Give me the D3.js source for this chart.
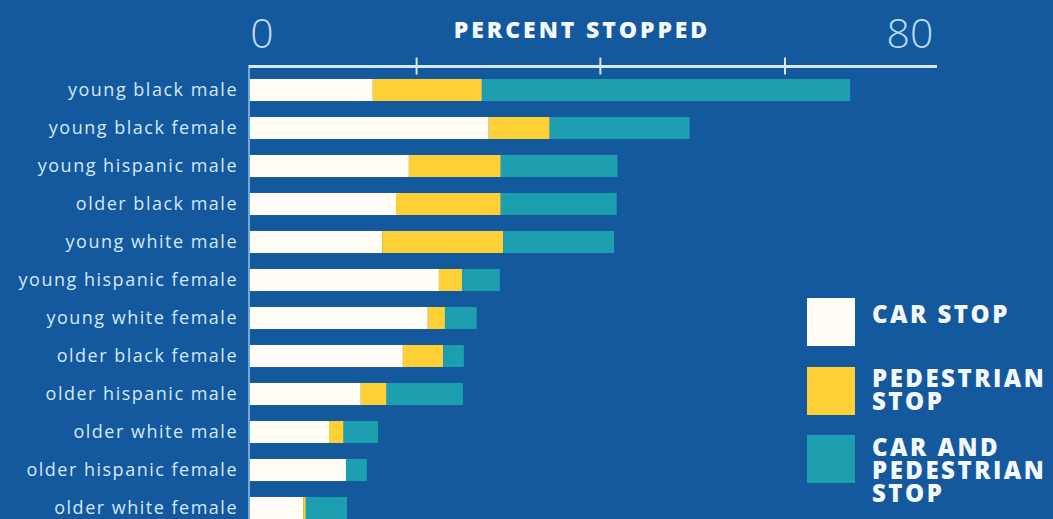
<!DOCTYPE html>
<html>
<head>
<meta charset="utf-8">
<script src="https://cdn.jsdelivr.net/npm/d3@7"></script>
<style>
  html, body { margin: 0; padding: 0; background: #14589e; }
  svg { display: block; }
</style>
</head>
<body>
<svg id="chart" width="1053" height="519"></svg>
<script>
// Groups, top to bottom
const categories = [
  "young black male",
  "young black female",
  "young hispanic male",
  "older black male",
  "young white male",
  "young hispanic female",
  "young white female",
  "older black female",
  "older hispanic male",
  "older white male",
  "older hispanic female",
  "older white female"
];

// Percent stopped, by type of stop
const carStop        = [14.3, 27.8, 18.5, 17.0, 15.4, 22.0, 20.7, 17.8, 12.9, 9.2, 11.2, 6.2];
const pedestrianStop = [12.7,  7.1, 10.7, 12.2, 14.1,  2.7,  2.0,  4.7,  3.0, 1.7,  0.0, 0.3];
const carAndPedStop  = [42.9, 16.3, 13.6, 13.5, 12.9,  4.4,  3.7,  2.4,  8.9, 4.0,  2.4, 4.8];

const seriesNames = ["CAR STOP", "PEDESTRIAN STOP", "CAR AND PEDESTRIAN STOP"];
const legendLines = [["CAR STOP"], ["PEDESTRIAN", "STOP"], ["CAR AND", "PEDESTRIAN", "STOP"]];
const axisDomain = [0, 80];
const axisEndLabels = ["0", "80"];
const axisTicks = [19.4, 40.8, 62.3];

const colors = ["#fffdf6", "#fdd035", "#1e9fb0"];
const bg = "#14589e";
const pale = "#d3e9fb";

const svg = d3.select("#chart");
svg.append("rect").attr("width", 1053).attr("height", 519).attr("fill", bg);

const x = d3.scaleLinear().domain(axisDomain).range([250, 937]);
const y = d3.scaleBand().domain(categories).range([71, 527]).paddingInner(0.42).paddingOuter(0.21);

// stack the three kinds of stop
const rows = categories.map((c, i) => ({
  cat: c,
  [seriesNames[0]]: carStop[i],
  [seriesNames[1]]: pedestrianStop[i],
  [seriesNames[2]]: carAndPedStop[i]
}));
const stacked = d3.stack().keys(seriesNames)(rows);

// left rule running down beside the bars
svg.append("line")
  .attr("x1", x(0) - 1).attr("x2", x(0) - 1)
  .attr("y1", 65).attr("y2", 519)
  .attr("stroke", "#6fa8dc").attr("stroke-width", 2);

// bars
svg.append("g").selectAll("g")
  .data(stacked)
  .join("g")
  .attr("fill", (d, i) => colors[i])
  .selectAll("rect")
  .data(d => d)
  .join("rect")
  .attr("x", d => x(d[0]))
  .attr("y", d => y(d.data.cat))
  .attr("width", d => Math.max(0, x(d[1]) - x(d[0])))
  .attr("height", y.bandwidth());

// top axis line with tick marks
const axisY = 66.5;
svg.append("line")
  .attr("x1", x(0) - 1).attr("x2", x(axisDomain[1]))
  .attr("y1", axisY).attr("y2", axisY)
  .attr("stroke", pale).attr("stroke-width", 3);

svg.append("g").selectAll("line")
  .data(axisTicks)
  .join("line")
  .attr("x1", d => x(d)).attr("x2", d => x(d))
  .attr("y1", axisY - 9).attr("y2", axisY + 8)
  .attr("stroke", pale).attr("stroke-width", 2);

// end labels of the axis
svg.append("text")
  .attr("x", x(0) + 12).attr("y", 48)
  .attr("text-anchor", "middle")
  .attr("font-family", "Open Sans, Lato, sans-serif")
  .attr("font-weight", 300)
  .attr("font-size", 41)
  .attr("fill", "#bcdcf5")
  .text(axisEndLabels[0]);

svg.append("text")
  .attr("x", x(axisDomain[1]) - 27).attr("y", 48)
  .attr("text-anchor", "middle")
  .attr("font-family", "Open Sans, Lato, sans-serif")
  .attr("font-weight", 300)
  .attr("font-size", 41)
  .attr("fill", "#bcdcf5")
  .text(axisEndLabels[1]);

// axis title
svg.append("text")
  .attr("x", 582).attr("y", 38)
  .attr("text-anchor", "middle")
  .attr("font-family", "Open Sans, sans-serif")
  .attr("font-weight", 800)
  .attr("font-size", 23)
  .attr("letter-spacing", 2.9)
  .attr("fill", "#f4f9ff")
  .text("PERCENT STOPPED");

// category labels
svg.append("g").selectAll("text")
  .data(categories)
  .join("text")
  .attr("x", 238)
  .attr("y", d => y(d) + y.bandwidth() / 2)
  .attr("dy", "0.35em")
  .attr("text-anchor", "end")
  .attr("font-family", "Open Sans, sans-serif")
  .attr("font-size", 18)
  .attr("letter-spacing", 1.5)
  .attr("fill", pale)
  .text(d => d);

// legend
const legendTops = [298, 367, 435];
const legend = svg.append("g");
legendLines.forEach((lines, i) => {
  legend.append("rect")
    .attr("x", 807).attr("y", legendTops[i])
    .attr("width", 48).attr("height", 48)
    .attr("fill", colors[i]);
  legend.append("text")
    .attr("x", 872)
    .attr("font-family", "Open Sans, sans-serif")
    .attr("font-weight", 800)
    .attr("font-size", 24)
    .attr("letter-spacing", 2.5)
    .attr("fill", "#f4f9ff")
    .selectAll("tspan")
    .data(lines)
    .join("tspan")
    .attr("x", 872)
    .attr("y", (d, j) => legendTops[i] + 25 + j * 23 - (lines.length > 1 ? 5 : 0) + (lines.length > 2 ? 1 : 0))
    .text(d => d);
});
</script>
</body>
</html>
